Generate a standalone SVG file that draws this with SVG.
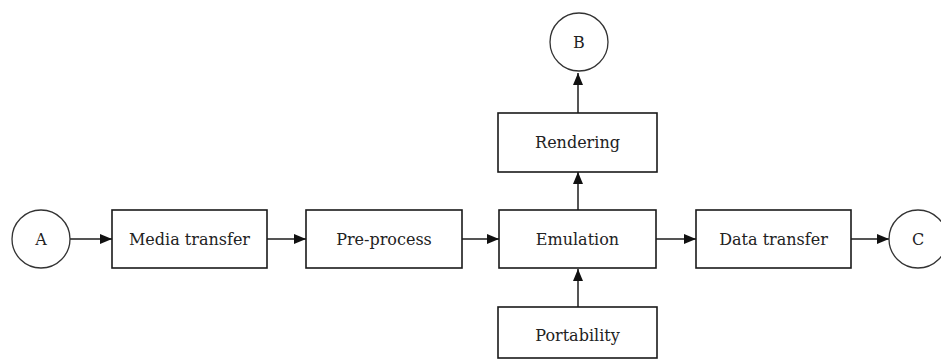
<svg xmlns="http://www.w3.org/2000/svg" width="941" height="360" viewBox="0 0 941 360">
  <style>
    .box { fill: #ffffff; stroke: #1a1a1a; stroke-width: 1.6; }
    .term { fill: #ffffff; stroke: #333333; stroke-width: 1.3; }
    .lbl { font-family: "DejaVu Serif", "Liberation Serif", serif; font-size: 16px; fill: #222222; text-anchor: middle; }
    .edge { stroke: #555555; stroke-width: 2; fill: none; marker-end: url(#arrow); }
  </style>
  <defs>
    <marker id="arrow" viewBox="0 0 12 10" refX="12" refY="5" markerWidth="12" markerHeight="10" markerUnits="userSpaceOnUse" orient="auto">
      <path d="M0,0 L12,5 L0,10 Z" fill="#111111"/>
    </marker>
  </defs>
  <rect width="941" height="360" fill="#ffffff"/>

  <g id="connectors">
    <line class="edge" x1="70" y1="239" x2="112" y2="239"/>
    <line class="edge" x1="267" y1="239" x2="306" y2="239"/>
    <line class="edge" x1="462" y1="239" x2="499" y2="239"/>
    <line class="edge" x1="656" y1="239" x2="696" y2="239"/>
    <line class="edge" x1="851" y1="239" x2="889" y2="239"/>
    <line class="edge" x1="578" y1="210" x2="578" y2="172"/>
    <line class="edge" x1="578" y1="113" x2="578" y2="73"/>
    <line class="edge" x1="578" y1="307" x2="578" y2="269"/>
  </g>

  <g id="node-a">
    <circle class="term" cx="41" cy="239" r="29"/>
    <text class="lbl" x="41" y="245">A</text>
  </g>
  <g id="node-media-transfer">
    <rect class="box" x="112" y="210" width="155" height="58"/>
    <text class="lbl" x="189.5" y="245">Media transfer</text>
  </g>
  <g id="node-pre-process">
    <rect class="box" x="306" y="210" width="156" height="58"/>
    <text class="lbl" x="384" y="245">Pre-process</text>
  </g>
  <g id="node-emulation">
    <rect class="box" x="499" y="210" width="157" height="58"/>
    <text class="lbl" x="577.5" y="245">Emulation</text>
  </g>
  <g id="node-data-transfer">
    <rect class="box" x="696" y="210" width="155" height="58"/>
    <text class="lbl" x="773.5" y="245">Data transfer</text>
  </g>
  <g id="node-c">
    <circle class="term" cx="918" cy="239" r="29"/>
    <text class="lbl" x="918" y="245">C</text>
  </g>
  <g id="node-rendering">
    <rect class="box" x="498" y="113" width="159" height="59"/>
    <text class="lbl" x="577.5" y="148">Rendering</text>
  </g>
  <g id="node-b">
    <circle class="term" cx="579" cy="42" r="29"/>
    <text class="lbl" x="579" y="48">B</text>
  </g>
  <g id="node-portability">
    <rect class="box" x="498" y="307" width="159" height="51"/>
    <text class="lbl" x="577.5" y="341">Portability</text>
  </g>
</svg>
